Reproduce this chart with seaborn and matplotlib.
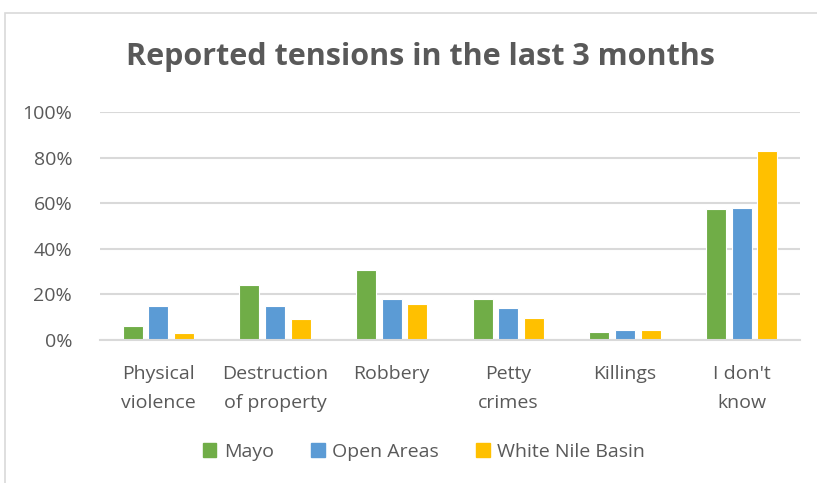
import pandas as pd
import matplotlib.pyplot as plt
import matplotlib.patches as mpatches
import seaborn as sns

# Data (percent of respondents)
categories = ["Physical\nviolence", "Destruction\nof property", "Robbery",
              "Petty\ncrimes", "Killings", "I don't\nknow"]
mayo = [6.2, 24.3, 30.8, 18.0, 3.6, 57.3]
open_areas = [15.1, 15.1, 18.2, 13.9, 4.4, 57.7]
white_nile = [3.2, 9.4, 15.8, 9.5, 4.3, 82.9]
series_names = ["Mayo", "Open Areas", "White Nile Basin"]
yticks = [0, 20, 40, 60, 80, 100]

COLORS = ["#70AD47", "#5B9BD5", "#FFC000"]
TEXT = "#595959"
GRID = "#D9D9D9"

df = pd.DataFrame({
    "category": categories * 3,
    "series": [s for s in series_names for _ in categories],
    "value": mayo + open_areas + white_nile,
})

sns.set_style("white")
plt.rcParams["font.family"] = ["Open Sans", "DejaVu Sans"]

fig = plt.figure(figsize=(8.17, 4.83), dpi=100)
# chart border, Excel style
fig.patches.append(mpatches.Rectangle((5 / 817, -0.01), 1.0, 1 - 13 / 483 + 0.01,
                                      transform=fig.transFigure, fill=False,
                                      edgecolor=GRID, lw=1.2))

ax = fig.add_axes([100 / 817, 1 - 340 / 483, 700 / 817, 228 / 483])
sns.barplot(data=df, x="category", y="value", hue="series", order=categories,
            hue_order=series_names, palette=COLORS, width=0.66, gap=0.22,
            edgecolor="white", linewidth=0.8, saturation=1, ax=ax, legend=False)

ax.set_ylim(0, 100)
ax.set_xlim(-0.5, len(categories) - 0.5)
ax.set_yticks(yticks)
ax.set_yticklabels([f"{t}%" for t in yticks])
ax.yaxis.grid(True, color=GRID, lw=1.5)
ax.set_axisbelow(True)
for s in ["top", "right", "left"]:
    ax.spines[s].set_visible(False)
ax.spines["bottom"].set_color(GRID)
ax.spines["bottom"].set_linewidth(1.5)
ax.tick_params(axis="both", length=0, labelsize=14, colors=TEXT)
ax.tick_params(axis="x", pad=18)
ax.tick_params(axis="y", pad=20)
ax.set_xlabel("")
ax.set_ylabel("")
for lbl in ax.get_xticklabels():
    lbl.set_linespacing(1.75)

fig.text(420 / 817, 1 - 57 / 483, "Reported tensions in the last 3 months",
         ha="center", va="center", fontsize=22, fontweight="bold", color=TEXT)

handles = [mpatches.Patch(color=c, label=n) for c, n in zip(COLORS, series_names)]
fig.legend(handles=handles, loc="center", bbox_to_anchor=(424 / 817, 1 - 452 / 483),
           ncol=3, frameon=False, fontsize=14, labelcolor=TEXT,
           handlelength=0.7, handleheight=0.7, handletextpad=0.4, columnspacing=1.9)

fig.savefig("out.png", dpi=100)
